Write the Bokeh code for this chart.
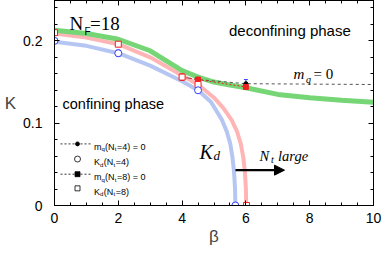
from bokeh.plotting import figure
from bokeh.models import (Range1d, LinearAxis, SingleIntervalTicker, CustomJSTickFormatter,
                          Label, Arrow, NormalHead)
from bokeh.embed import file_html
from bokeh.resources import INLINE

# ---------------- data ----------------
green_beta = [0, 1, 2, 3, 4, 4.5, 5, 5.5, 6, 7, 8, 9, 10]
green_K = [0.213, 0.209, 0.202, 0.188, 0.164, 0.156, 0.150, 0.1465, 0.143, 0.135, 0.131, 0.128, 0.1255]

kd8_curve_beta = [0, 1, 2, 3, 4, 4.5, 5, 5.3, 5.55, 5.72, 5.84, 5.92, 5.97, 6.0, 6.01]
kd8_curve_K = [0.209, 0.204, 0.196, 0.180, 0.158, 0.147, 0.131, 0.118, 0.104, 0.090, 0.075, 0.058, 0.040, 0.020, 0.0]

kd4_curve_beta = [0, 1, 2, 3, 4, 4.5, 4.9, 5.25, 5.4, 5.51, 5.58, 5.63, 5.66, 5.67]
kd4_curve_K = [0.199, 0.194, 0.185, 0.170, 0.151, 0.140, 0.126, 0.104, 0.090, 0.075, 0.058, 0.040, 0.020, 0.0]

kd4_beta = [0, 2, 4.5, 5.67]
kd4_K = [0.200, 0.185, 0.140, 0.0]

kd8_beta = [0, 2, 4, 4.5, 6.02]
kd8_K = [0.210, 0.196, 0.156, 0.147, 0.0]

mq4_beta = [4, 4.5, 6]
mq4_K = [0.156, 0.153, 0.148]
mq4_line_beta = [4, 4.5, 6, 10]
mq4_line_K = [0.156, 0.153, 0.148, 0.147]

mq8_beta = [4, 4.5, 6]
mq8_K = [0.156, 0.153, 0.144]

err_blue_beta = [2, 6]
err_blue_K = [0.185, 0.148]
err_blue_e = [0.004, 0.005]
err_red_beta = [2, 4]
err_red_K = [0.196, 0.156]
err_red_e = [0.003, 0.004]

x_ticks_interval = 2
y_ticks_interval = 0.1

# ---------------- colours / styles ----------------
GREEN = "#76d676"
PINK = "#ffb5b5"
LBLUE = "#b6c6f2"
BLUE = "#3340ff"
RED = "#ee2222"
SERIF = "Liberation Serif"
SANS = "Liberation Sans"


# reference pixel -> data
def px2x(px):
    return (px - 54) / 31.9


def py2y(py):
    return (205 - py) / 815


p = figure(width=382, height=253, output_backend="svg", toolbar_location=None,
           x_range=Range1d(0, 10), y_range=Range1d(0, 203 / 815),
           min_border_left=54, min_border_right=9, min_border_top=0, min_border_bottom=48)
p.xgrid.grid_line_color = None
p.ygrid.grid_line_color = None
p.outline_line_color = "black"
p.background_fill_color = "white"

xt = SingleIntervalTicker(interval=x_ticks_interval, num_minor_ticks=4)
yt = SingleIntervalTicker(interval=y_ticks_interval, num_minor_ticks=5)
yfmt = CustomJSTickFormatter(code="return Math.abs(tick) < 1e-9 ? '0' : tick.toFixed(1);")

p.xaxis[0].ticker = xt
p.yaxis[0].ticker = yt
p.yaxis[0].formatter = yfmt


def style_axis(ax):
    ax.major_tick_in = 5
    ax.major_tick_out = 0
    ax.minor_tick_in = 3
    ax.minor_tick_out = 0
    ax.axis_line_color = "black"
    ax.major_tick_line_color = "black"
    ax.minor_tick_line_color = "black"
    ax.major_label_text_font = SANS
    ax.major_label_text_font_size = "14px"
    ax.major_label_text_color = "black"


style_axis(p.xaxis[0])
style_axis(p.yaxis[0])
p.xaxis[0].major_label_standoff = 7
p.yaxis[0].major_label_standoff = 12

xa = p.xaxis[0]
xa.axis_label = "β"
xa.axis_label_text_font = SANS
xa.axis_label_text_font_style = "normal"
xa.axis_label_text_font_size = "17px"
xa.axis_label_standoff = 1

ya = p.yaxis[0]
ya.axis_label = "K"
ya.axis_label_text_font = SANS
ya.axis_label_text_font_style = "normal"
ya.axis_label_text_font_size = "17px"
ya.axis_label_standoff = 4
try:
    ya.axis_label_orientation = "horizontal"
except Exception:
    pass

blank = CustomJSTickFormatter(code="return '';")
top = LinearAxis(ticker=SingleIntervalTicker(interval=x_ticks_interval, num_minor_ticks=4),
                 formatter=blank)
right = LinearAxis(ticker=SingleIntervalTicker(interval=y_ticks_interval, num_minor_ticks=5),
                   formatter=blank)
for ax in (top, right):
    style_axis(ax)
    ax.major_label_text_font_size = "1px"
    ax.major_label_standoff = 0
p.add_layout(top, "above")
p.add_layout(right, "right")

# curves
p.line(kd4_curve_beta, kd4_curve_K, line_color=LBLUE, line_width=4)
p.line(kd8_curve_beta, kd8_curve_K, line_color=PINK, line_width=4)
p.line(green_beta, green_K, line_color=GREEN, line_width=5)

# m_q = 0 lines
p.line(mq4_line_beta, mq4_line_K, line_color="#555555", line_width=1, line_dash="3 3")
p.line(mq8_beta, mq8_K, line_color=RED, line_width=1, line_dash="2 2")

# error bars
blo = [k - e for k, e in zip(err_blue_K, err_blue_e)]
bhi = [k + e for k, e in zip(err_blue_K, err_blue_e)]
rlo = [k - e for k, e in zip(err_red_K, err_red_e)]
rhi = [k + e for k, e in zip(err_red_K, err_red_e)]
p.segment(err_blue_beta, blo, err_blue_beta, bhi, line_color=BLUE, line_width=1)
p.scatter(err_blue_beta + err_blue_beta, blo + bhi, marker="dash", size=4, line_color=BLUE)
p.segment(err_red_beta, rlo, err_red_beta, rhi, line_color=RED, line_width=1)
p.scatter(err_red_beta + err_red_beta, rlo + rhi, marker="dash", size=4, line_color=RED)

# markers
p.scatter(mq4_beta, mq4_K, marker="circle", size=4, fill_color="black", line_color="black")
p.scatter(mq8_beta, mq8_K, marker="square", size=5, fill_color=RED, line_color=RED)
p.scatter(kd8_beta, kd8_K, marker="square", size=6, fill_color="white", line_color=RED, line_width=1)
p.scatter(kd4_beta, kd4_K, marker="circle", size=7, fill_color="white", line_color=BLUE, line_width=1)

# arrow
p.add_layout(Arrow(end=NormalHead(size=10, fill_color="black", line_color="black"),
                   x_start=px2x(235), y_start=py2y(170), x_end=px2x(284), y_end=py2y(170),
                   line_color="black", line_width=2.2))


def lab(px, py, text, size, font=SANS, style="normal", baseline="alphabetic", align="left"):
    p.add_layout(Label(x=px2x(px), y=py2y(py), text=text, text_font=font,
                       text_font_size=f"{size}px", text_font_style=style,
                       text_baseline=baseline, text_align=align, text_color="black"))


# annotations
lab(69, 25, "N", 19, SERIF)
lab(84, 33, "F", 10, SANS)
lab(89.5, 25, "=18", 19, SERIF)
lab(228.5, 32, "deconfining phase", 15, SANS, baseline="middle")
lab(62, 104, "confining phase", 14.5, SANS, baseline="middle")
lab(293, 75, "m", 15, SERIF, "italic")
lab(305.5, 80, "q", 10, SERIF, "italic")
lab(313, 75, "= 0", 15, SERIF)
lab(199, 152, "K", 20, SERIF, "italic")
lab(213, 155, "d", 13, SERIF, "italic")
lab(259, 156, "N", 14.5, SERIF, "italic")
lab(270.5, 159.5, "t", 10, SERIF, "italic")
lab(277.5, 156, "large", 14.5, SERIF, "italic")

# legend (drawn by hand to allow subscripts)
leg_y = [144, 159, 174, 188]
for i, yy in enumerate(leg_y):
    if i in (0, 2):
        p.line([px2x(60), px2x(91)], [py2y(yy), py2y(yy)], line_color="black", line_width=0.8,
               line_dash="2 2")
for yy, mk, fill, sz in zip(leg_y, ["circle", "circle", "square", "square"],
                            ["black", "white", "black", "white"], [4, 6, 5, 5]):
    p.scatter([px2x(77)], [py2y(yy)], marker=mk, size=sz, fill_color=fill, line_color="black",
              line_width=0.8)

for yy, head, num in zip(leg_y, ["m", "K", "m", "K"], ["4", "4", "8", "8"]):
    b = yy + 3.2
    sb = yy + 5.5
    if head == "m":
        lab(93.5, b, "m", 9)
        lab(101, sb, "q", 6)
        lab(104.5, b, "(N", 9)
        lab(114.2, sb, "t", 6)
        lab(116.5, b, f"={num}) = 0", 9)
    else:
        lab(93.5, b, "K", 9)
        lab(99.6, sb, "d", 6)
        lab(103.3, b, "(N", 9)
        lab(113, sb, "t", 6)
        lab(115.3, b, f"={num})", 9)

open("out.html", "w").write(file_html(p, INLINE))
